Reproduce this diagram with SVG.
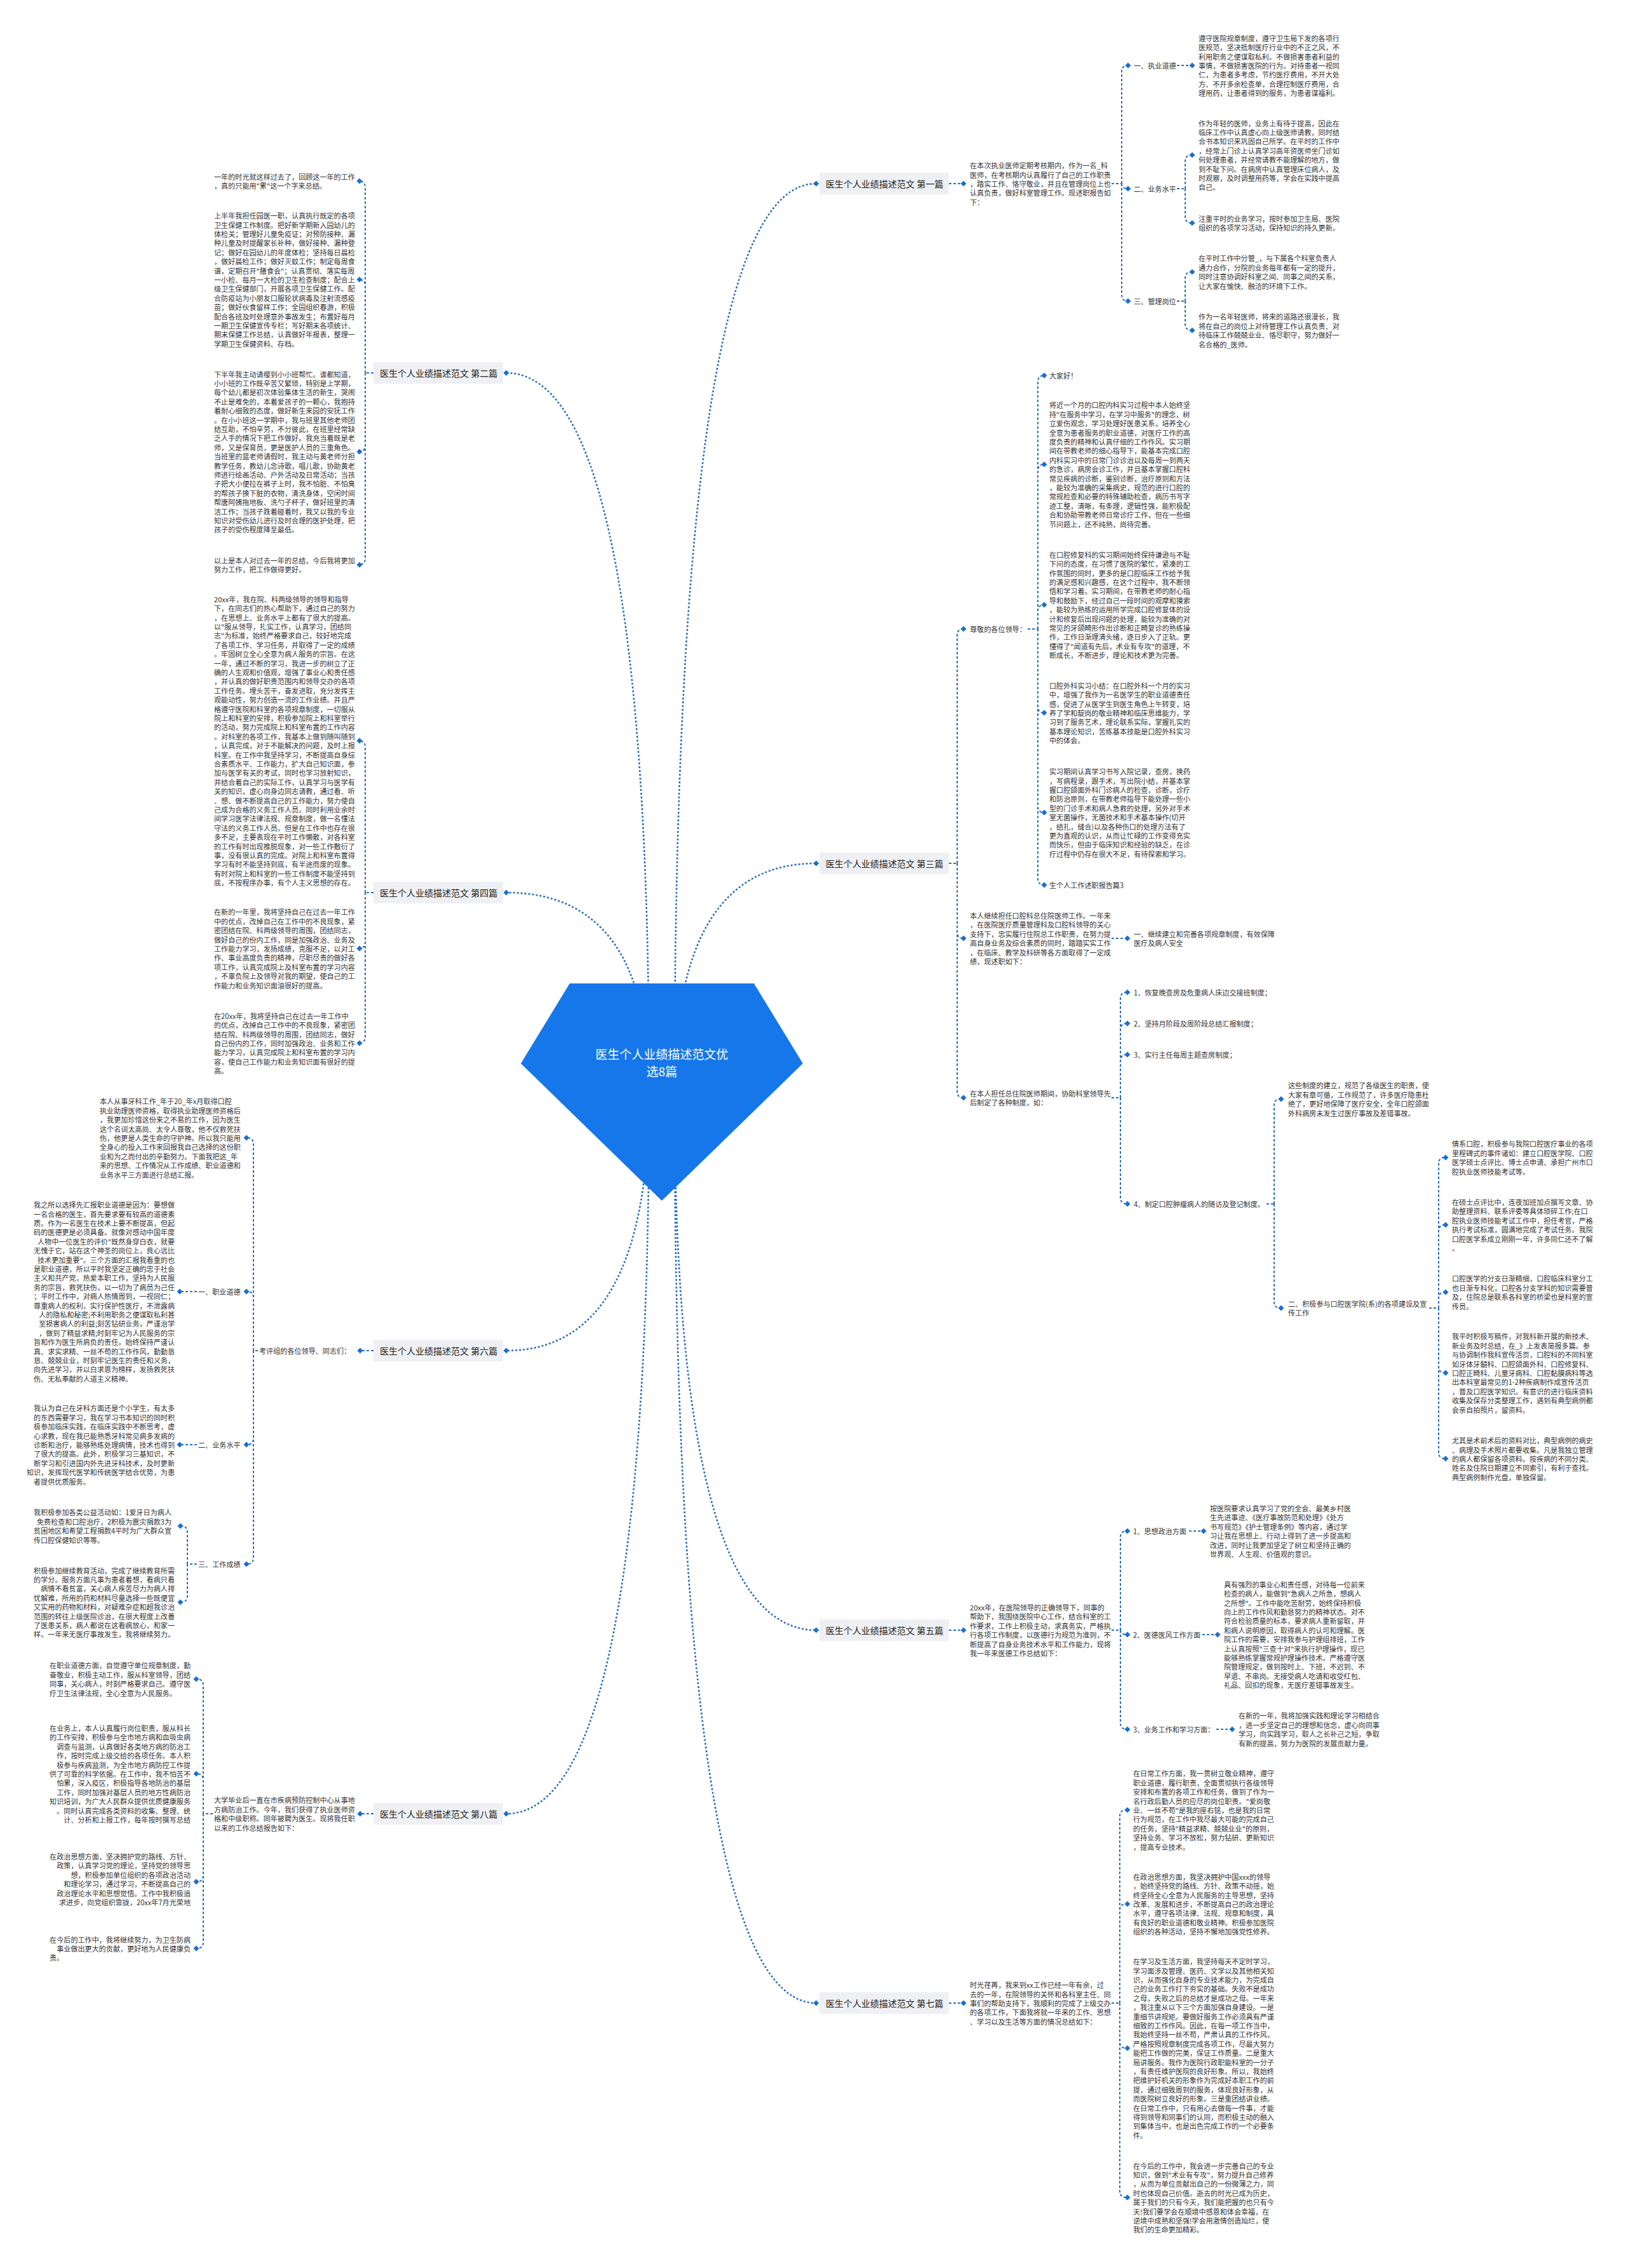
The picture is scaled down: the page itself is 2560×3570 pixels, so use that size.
<svg xmlns="http://www.w3.org/2000/svg" xmlns:xlink="http://www.w3.org/1999/xlink" width="2560" height="3570" viewBox="0 0 2560 3570">
<style>
text{font-family:"Noto Sans CJK SC","Noto Sans",sans-serif;dominant-baseline:central}
.t{font-size:11.1px;fill:#333}
.e{text-anchor:end}
.lb{font-size:14px;fill:#222}
.root{font-size:19px;fill:#fff;text-anchor:middle}
.box{fill:#eef0f4}
.c{fill:none;stroke:#2a6ebd;stroke-width:2;stroke-dasharray:4 3}
.cm{fill:none;stroke:#2a6ebd;stroke-width:2.6;stroke-dasharray:3 3}
</style>
<defs>
<path id="dm" d="M0,-4.5L4.5,0L0,4.5L-4.5,0Z" fill="#1a6fd0"/>
</defs>
<rect width="2560" height="3570" fill="#ffffff"/>
<g id="connectors">
<path class="cm" d="M1062,1719 Q1062,289 1285,289"/>
<path class="cm" d="M1062,1719 Q1062,1359 1285,1359"/>
<path class="cm" d="M1062,1719 Q1062,2566 1285,2566"/>
<path class="cm" d="M1062,1719 Q1062,3153 1285,3153"/>
<path class="cm" d="M1022,1719 Q1022,587 797,587"/>
<path class="cm" d="M1022,1719 Q1022,1405 797,1405"/>
<path class="cm" d="M1022,1719 Q1022,2126 797,2126"/>
<path class="cm" d="M1022,1719 Q1022,2855 797,2855"/>
<!-- branch 1 -->
<path class="c" d="M1494,289 H1517"/>
<path class="c" d="M1750,289 H1766"/>
<path class="c" d="M1766,289 V113 Q1766,103 1776,103"/>
<path class="c" d="M1766,289 C1766,295 1770,297 1776,297"/>
<path class="c" d="M1766,289 V464 Q1766,474 1776,474"/>
<path class="c" d="M1853,103 H1877"/>
<path class="c" d="M1853,297 H1866"/>
<path class="c" d="M1866,297 V254 Q1866,244 1876,244"/>
<path class="c" d="M1866,297 V341 Q1866,351 1876,351"/>
<path class="c" d="M1853,474 H1866"/>
<path class="c" d="M1866,474 V438 Q1866,428 1876,428"/>
<path class="c" d="M1866,474 V510 Q1866,520 1876,520"/>
<!-- branch 2 -->
<path class="c" d="M588,587 H575"/>
<path class="c" d="M575,587 V295 Q575,285 565,285"/>
<path class="c" d="M575,587 V450 Q575,440 565,440"/>
<path class="c" d="M575,587 V701 Q575,711 565,711"/>
<path class="c" d="M575,587 V879 Q575,889 565,889"/>
<!-- branch 4 -->
<path class="c" d="M588,1405 H575"/>
<path class="c" d="M575,1405 V1176 Q575,1166 565,1166"/>
<path class="c" d="M575,1405 V1483 Q575,1493 565,1493"/>
<path class="c" d="M575,1405 V1632 Q575,1642 565,1642"/>
<!-- branch 6 -->
<path class="c" d="M588,2126 H567"/>
<path class="c" d="M406,2126 H399"/>
<path class="c" d="M399,2126 V1801 Q399,1791 389,1791"/>
<path class="c" d="M399,2126 V2043 Q399,2033 389,2033"/>
<path class="c" d="M399,2126 V2264 Q399,2274 389,2274"/>
<path class="c" d="M399,2126 V2452 Q399,2462 389,2462"/>
<path class="c" d="M310,2033 H283"/>
<path class="c" d="M310,2274 H283"/>
<path class="c" d="M310,2462 H295"/>
<path class="c" d="M295,2462 V2412 Q295,2402 285,2402"/>
<path class="c" d="M295,2462 V2512 Q295,2522 285,2522"/>
<!-- branch 8 -->
<path class="c" d="M588,2855 H567"/>
<path class="c" d="M335,2855 H320"/>
<path class="c" d="M320,2855 V2653 Q320,2643 310,2643"/>
<path class="c" d="M320,2855 V2802 Q320,2792 310,2792"/>
<path class="c" d="M320,2855 V2952 Q320,2962 310,2962"/>
<path class="c" d="M320,2855 V3057 Q320,3067 310,3067"/>
<!-- branch 3 -->
<path class="c" d="M1494,1359 H1507"/>
<path class="c" d="M1507,1359 V1000 Q1507,990 1517,990"/>
<path class="c" d="M1507,1359 V1467 Q1507,1477 1517,1477"/>
<path class="c" d="M1507,1359 V1718 Q1507,1728 1517,1728"/>
<path class="c" d="M1618,990 H1634"/>
<path class="c" d="M1634,990 V601 Q1634,591 1644,591"/>
<path class="c" d="M1634,990 V741 Q1634,731 1644,731"/>
<path class="c" d="M1634,990 V962 Q1634,952 1644,952"/>
<path class="c" d="M1634,990 V1112 Q1634,1122 1644,1122"/>
<path class="c" d="M1634,990 V1269 Q1634,1279 1644,1279"/>
<path class="c" d="M1634,990 V1383 Q1634,1393 1644,1393"/>
<path class="c" d="M1750,1477 H1775"/>
<path class="c" d="M1750,1728 H1764"/>
<path class="c" d="M1764,1728 V1572 Q1764,1562 1774,1562"/>
<path class="c" d="M1764,1728 V1621 Q1764,1611 1774,1611"/>
<path class="c" d="M1764,1728 V1670 Q1764,1660 1774,1660"/>
<path class="c" d="M1764,1728 V1885 Q1764,1895 1774,1895"/>
<path class="c" d="M1994,1895 H2006"/>
<path class="c" d="M2006,1895 V1740 Q2006,1730 2016,1730"/>
<path class="c" d="M2006,1895 V2049 Q2006,2059 2016,2059"/>
<path class="c" d="M2250,2059 H2265"/>
<path class="c" d="M2265,2059 V1832 Q2265,1822 2275,1822"/>
<path class="c" d="M2265,2059 V1938 Q2265,1928 2275,1928"/>
<path class="c" d="M2265,2059 V2044 Q2265,2034 2275,2034"/>
<path class="c" d="M2265,2059 V2151 Q2265,2161 2275,2161"/>
<path class="c" d="M2265,2059 V2286 Q2265,2296 2275,2296"/>
<!-- branch 5 -->
<path class="c" d="M1494,2566 H1517"/>
<path class="c" d="M1750,2566 H1764"/>
<path class="c" d="M1764,2566 V2420 Q1764,2410 1774,2410"/>
<path class="c" d="M1764,2566 C1764,2571 1768,2573 1774,2573"/>
<path class="c" d="M1764,2566 V2712 Q1764,2722 1774,2722"/>
<path class="c" d="M1872,2410 H1895"/>
<path class="c" d="M1893,2573 H1917"/>
<path class="c" d="M1915,2722 H1940"/>
<!-- branch 7 -->
<path class="c" d="M1494,3153 H1517"/>
<path class="c" d="M1750,3153 H1763"/>
<path class="c" d="M1763,3153 V2859 Q1763,2849 1773,2849"/>
<path class="c" d="M1763,3153 V3007 Q1763,2997 1773,2997"/>
<path class="c" d="M1763,3153 V3214 Q1763,3224 1773,3224"/>
<path class="c" d="M1763,3153 V3449 Q1763,3459 1773,3459"/>
<!-- diamonds -->
<use xlink:href="#dm" x="1285" y="289"/><use xlink:href="#dm" x="1285" y="1359"/><use xlink:href="#dm" x="1285" y="2566"/><use xlink:href="#dm" x="1285" y="3153"/>
<use xlink:href="#dm" x="797" y="587"/><use xlink:href="#dm" x="797" y="1405"/><use xlink:href="#dm" x="797" y="2126"/><use xlink:href="#dm" x="797" y="2855"/>
<use xlink:href="#dm" x="1517" y="289"/><use xlink:href="#dm" x="1776" y="103"/><use xlink:href="#dm" x="1776" y="297"/><use xlink:href="#dm" x="1776" y="474"/>
<use xlink:href="#dm" x="1877" y="103"/><use xlink:href="#dm" x="1877" y="244"/><use xlink:href="#dm" x="1877" y="351"/><use xlink:href="#dm" x="1877" y="428"/><use xlink:href="#dm" x="1877" y="520"/>
<use xlink:href="#dm" x="566" y="285"/><use xlink:href="#dm" x="566" y="440"/><use xlink:href="#dm" x="566" y="711"/><use xlink:href="#dm" x="566" y="889"/>
<use xlink:href="#dm" x="566" y="1166"/><use xlink:href="#dm" x="566" y="1493"/><use xlink:href="#dm" x="566" y="1642"/>
<use xlink:href="#dm" x="567" y="2126"/><use xlink:href="#dm" x="388" y="1791"/><use xlink:href="#dm" x="388" y="2033"/><use xlink:href="#dm" x="388" y="2274"/><use xlink:href="#dm" x="388" y="2462"/>
<use xlink:href="#dm" x="283" y="2033"/><use xlink:href="#dm" x="283" y="2274"/><use xlink:href="#dm" x="284" y="2402"/><use xlink:href="#dm" x="284" y="2522"/>
<use xlink:href="#dm" x="567" y="2855"/><use xlink:href="#dm" x="309" y="2643"/><use xlink:href="#dm" x="309" y="2792"/><use xlink:href="#dm" x="309" y="2962"/><use xlink:href="#dm" x="309" y="3067"/>
<use xlink:href="#dm" x="1517" y="990"/><use xlink:href="#dm" x="1517" y="1477"/><use xlink:href="#dm" x="1517" y="1728"/>
<use xlink:href="#dm" x="1644" y="591"/><use xlink:href="#dm" x="1644" y="731"/><use xlink:href="#dm" x="1644" y="952"/><use xlink:href="#dm" x="1644" y="1122"/><use xlink:href="#dm" x="1644" y="1279"/><use xlink:href="#dm" x="1644" y="1393"/>
<use xlink:href="#dm" x="1775" y="1477"/><use xlink:href="#dm" x="1775" y="1562"/><use xlink:href="#dm" x="1775" y="1611"/><use xlink:href="#dm" x="1775" y="1660"/><use xlink:href="#dm" x="1775" y="1895"/>
<use xlink:href="#dm" x="2017" y="1730"/><use xlink:href="#dm" x="2017" y="2059"/>
<use xlink:href="#dm" x="2276" y="1822"/><use xlink:href="#dm" x="2276" y="1928"/><use xlink:href="#dm" x="2276" y="2034"/><use xlink:href="#dm" x="2276" y="2161"/><use xlink:href="#dm" x="2276" y="2296"/>
<use xlink:href="#dm" x="1517" y="2566"/><use xlink:href="#dm" x="1775" y="2410"/><use xlink:href="#dm" x="1775" y="2573"/><use xlink:href="#dm" x="1775" y="2722"/>
<use xlink:href="#dm" x="1895" y="2410"/><use xlink:href="#dm" x="1917" y="2573"/><use xlink:href="#dm" x="1940" y="2722"/>
<use xlink:href="#dm" x="1517" y="3153"/><use xlink:href="#dm" x="1775" y="2849"/><use xlink:href="#dm" x="1775" y="2997"/><use xlink:href="#dm" x="1775" y="3224"/><use xlink:href="#dm" x="1775" y="3459"/>
</g>

<g id="root">
<polygon points="897,1548 1187,1548 1264,1674 1042,1890 820,1674" fill="#1677ea"/>
<text class="root" x="1042" y="1658">医生个人业绩描述范文优</text>
<text class="root" x="1042" y="1685">选8篇</text>
</g>

<!-- branch labels -->
<g id="b1"><rect class="box" x="1290" y="272" width="204" height="34" rx="2"/><text class="lb" x="1300" y="289">医生个人业绩描述范文 第一篇</text></g>
<g id="b3"><rect class="box" x="1290" y="1342" width="204" height="34" rx="2"/><text class="lb" x="1300" y="1359">医生个人业绩描述范文 第三篇</text></g>
<g id="b5"><rect class="box" x="1290" y="2549" width="204" height="34" rx="2"/><text class="lb" x="1300" y="2566">医生个人业绩描述范文 第五篇</text></g>
<g id="b7"><rect class="box" x="1290" y="3136" width="204" height="34" rx="2"/><text class="lb" x="1300" y="3153">医生个人业绩描述范文 第七篇</text></g>
<g id="b2"><rect class="box" x="588" y="570" width="204" height="34" rx="2"/><text class="lb" x="598" y="587">医生个人业绩描述范文 第二篇</text></g>
<g id="b4"><rect class="box" x="588" y="1388" width="204" height="34" rx="2"/><text class="lb" x="598" y="1405">医生个人业绩描述范文 第四篇</text></g>
<g id="b6"><rect class="box" x="588" y="2109" width="204" height="34" rx="2"/><text class="lb" x="598" y="2126">医生个人业绩描述范文 第六篇</text></g>
<g id="b8"><rect class="box" x="588" y="2838" width="204" height="34" rx="2"/><text class="lb" x="598" y="2855">医生个人业绩描述范文 第八篇</text></g>

<!-- branch 1 content -->
<g id="b1-intro"><text class="t" x="1527" y="260.2"><tspan x="1527">在本次执业医师定期考核期内，作为一名_科</tspan><tspan x="1527" dy="14.4">医师，在考核期内认真履行了自己的工作职责</tspan><tspan x="1527" dy="14.4">，踏实工作、恪守敬业，并且在管理岗位上也</tspan><tspan x="1527" dy="14.4">认真负责，做好科室管理工作。现述职报告如</tspan><tspan x="1527" dy="14.4">下：</tspan></text></g>
<g id="b1-s1"><text class="t" x="1785" y="103">一、执业道德</text></g>
<g id="b1-s2"><text class="t" x="1785" y="297">二、业务水平</text></g>
<g id="b1-s3"><text class="t" x="1785" y="474">三、管理岗位</text></g>
<g id="b1-s1-t"><text class="t" x="1887" y="59.8"><tspan x="1887">遵守医院规章制度，遵守卫生局下发的各项行</tspan><tspan x="1887" dy="14.4">医规范，坚决抵制医疗行业中的不正之风，不</tspan><tspan x="1887" dy="14.4">利用职务之便谋取私利。不做损害患者利益的</tspan><tspan x="1887" dy="14.4">事情，不做损害医院的行为。对待患者一视同</tspan><tspan x="1887" dy="14.4">仁，为患者多考虑，节约医疗费用，不开大处</tspan><tspan x="1887" dy="14.4">方、不开多余检查单，合理控制医疗费用，合</tspan><tspan x="1887" dy="14.4">理用药，让患者得到的服务，为患者谋福利。</tspan></text></g>
<g id="b1-s2-t1"><text class="t" x="1887" y="193.6"><tspan x="1887">作为年轻的医师，业务上有待于提高，因此在</tspan><tspan x="1887" dy="14.4">临床工作中认真虚心向上级医师请教，同时结</tspan><tspan x="1887" dy="14.4">合书本知识来巩固自己所学。在平时的工作中</tspan><tspan x="1887" dy="14.4">，经常上门诊上认真学习高年资医师坐门诊如</tspan><tspan x="1887" dy="14.4">何处理患者，并经常请教不能理解的地方，做</tspan><tspan x="1887" dy="14.4">到不耻下问。在病房中认真管理床位病人，及</tspan><tspan x="1887" dy="14.4">时观察，及时调整用药等，学会在实践中提高</tspan><tspan x="1887" dy="14.4">自己。</tspan></text></g>
<g id="b1-s2-t2"><text class="t" x="1887" y="343.8"><tspan x="1887">注重平时的业务学习，按时参加卫生局、医院</tspan><tspan x="1887" dy="14.4">组织的各项学习活动，保持知识的持久更新。</tspan></text></g>
<g id="b1-s3-t1"><text class="t" x="1887" y="406.4"><tspan x="1887">在平时工作中分管_，与下属各个科室负责人</tspan><tspan x="1887" dy="14.4">通力合作，分院的业务每年都有一定的提升，</tspan><tspan x="1887" dy="14.4">同时注意协调好科室之间、同事之间的关系，</tspan><tspan x="1887" dy="14.4">让大家在愉快、融洽的环境下工作。</tspan></text></g>
<g id="b1-s3-t2"><text class="t" x="1887" y="498.4"><tspan x="1887">作为一名年轻医师，将来的道路还很漫长，我</tspan><tspan x="1887" dy="14.4">将在自己的岗位上对待管理工作认真负责、对</tspan><tspan x="1887" dy="14.4">待临床工作兢兢业业、恪尽职守，努力做好一</tspan><tspan x="1887" dy="14.4">名合格的_医师。</tspan></text></g>

<!-- branch 2 content -->
<g id="b2-t1"><text class="t" x="337" y="277.8"><tspan x="337">一年的时光就这样过去了，回顾这一年的工作</tspan><tspan x="337" dy="14.4">，真的只能用"累"这一个字来总结。</tspan></text></g>
<g id="b2-t2"><text class="t" x="337" y="339.2"><tspan x="337">上半年我担任园医一职，认真执行既定的各项</tspan><tspan x="337" dy="14.4">卫生保健工作制度。把好新学期新入园幼儿的</tspan><tspan x="337" dy="14.4">体检关；管理好儿童免疫证；对预防接种、漏</tspan><tspan x="337" dy="14.4">种儿童及时提醒家长补种，做好接种、漏种登</tspan><tspan x="337" dy="14.4">记；做好在园幼儿的年度体检；坚持每日晨检</tspan><tspan x="337" dy="14.4">，做好晨检工作；做好灭蚊工作；制定每周食</tspan><tspan x="337" dy="14.4">谱，定期召开"膳食会"；认真贯彻、落实每周</tspan><tspan x="337" dy="14.4">一小检、每月一大检的卫生检查制度；配合上</tspan><tspan x="337" dy="14.4">级卫生保健部门，开展各项卫生保健工作。配</tspan><tspan x="337" dy="14.4">合防疫站为小朋友口服轮状病毒及注射流感疫</tspan><tspan x="337" dy="14.4">苗；做好伙食留样工作；全园组织春游，积极</tspan><tspan x="337" dy="14.4">配合各班及时处理意外事故发生；布置好每月</tspan><tspan x="337" dy="14.4">一期卫生保健宣传专栏；写好期末各项统计、</tspan><tspan x="337" dy="14.4">期末保健工作总结，认真做好年报表，整理一</tspan><tspan x="337" dy="14.4">学期卫生保健资料、存档。</tspan></text></g>
<g id="b2-t3"><text class="t" x="337" y="588.6"><tspan x="337">下半年我主动请缨到小小班帮忙。谁都知道，</tspan><tspan x="337" dy="14.4">小小班的工作既辛苦又繁琐，特别是上学期，</tspan><tspan x="337" dy="14.4">每个幼儿都是初次体验集体生活的新生，哭闹</tspan><tspan x="337" dy="14.4">不止是难免的，本着爱孩子的一颗心，我抱持</tspan><tspan x="337" dy="14.4">着耐心细致的态度，做好新生来园的安抚工作</tspan><tspan x="337" dy="14.4">。在小小班这一学期中，我与班里其他老师团</tspan><tspan x="337" dy="14.4">结互助，不怕辛劳，不分彼此，在班里经常缺</tspan><tspan x="337" dy="14.4">乏人手的情况下把工作做好。我充当着既是老</tspan><tspan x="337" dy="14.4">师，又是保育员，更是医护人员的三重角色。</tspan><tspan x="337" dy="14.4">当班里的蓝老师请假时，我主动与黄老师分担</tspan><tspan x="337" dy="14.4">教学任务，教幼儿念诗歌，唱儿歌，协助黄老</tspan><tspan x="337" dy="14.4">师进行绘画活动、户外活动及日常活动；当孩</tspan><tspan x="337" dy="14.4">子把大小便拉在裤子上时，我不怕脏、不怕臭</tspan><tspan x="337" dy="14.4">的帮孩子换下脏的衣物，清洗身体，空闲时间</tspan><tspan x="337" dy="14.4">帮唐阿姨拖地板、洗勺子杯子，做好班里的清</tspan><tspan x="337" dy="14.4">洁工作；当孩子跌着碰着时，我又以我的专业</tspan><tspan x="337" dy="14.4">知识对受伤幼儿进行及时合理的医护处理，把</tspan><tspan x="337" dy="14.4">孩子的受伤程度降至最低。</tspan></text></g>
<g id="b2-t4"><text class="t" x="337" y="881.8"><tspan x="337">以上是本人对过去一年的总结，今后我将更加</tspan><tspan x="337" dy="14.4">努力工作，把工作做得更好。</tspan></text></g>

<!-- branch 4 content -->
<g id="b4-t1"><text class="t" x="337" y="942.8"><tspan x="337">20xx年，我在院、科两级领导的领导和指导</tspan><tspan x="337" dy="14.4">下，在同志们的热心帮助下，通过自己的努力</tspan><tspan x="337" dy="14.4">，在思想上、业务水平上都有了很大的提高。</tspan><tspan x="337" dy="14.4">以"服从领导，扎实工作，认真学习，团结同</tspan><tspan x="337" dy="14.4">志"为标准，始终严格要求自己，较好地完成</tspan><tspan x="337" dy="14.4">了各项工作、学习任务，并取得了一定的成绩</tspan><tspan x="337" dy="14.4">。牢固树立全心全意为病人服务的宗旨。在这</tspan><tspan x="337" dy="14.4">一年，通过不断的学习，我进一步的树立了正</tspan><tspan x="337" dy="14.4">确的人生观和价值观，增强了事业心和责任感</tspan><tspan x="337" dy="14.4">，并认真的做好职责范围内和领导交办的各项</tspan><tspan x="337" dy="14.4">工作任务。埋头苦干，奋发进取，充分发挥主</tspan><tspan x="337" dy="14.4">观能动性，努力创造一流的工作业绩。并且严</tspan><tspan x="337" dy="14.4">格遵守医院和科室的各项规章制度，一切服从</tspan><tspan x="337" dy="14.4">院上和科室的安排，积极参加院上和科室举行</tspan><tspan x="337" dy="14.4">的活动，努力完成院上和科室布置的工作内容</tspan><tspan x="337" dy="14.4">。对科室的各项工作，我基本上做到随叫随到</tspan><tspan x="337" dy="14.4">，认真完成，对于不能解决的问题，及时上报</tspan><tspan x="337" dy="14.4">科室。在工作中我坚持学习，不断提高自身综</tspan><tspan x="337" dy="14.4">合素质水平、工作能力，扩大自己知识面，参</tspan><tspan x="337" dy="14.4">加与医学有关的考试，同时也学习放射知识，</tspan><tspan x="337" dy="14.4">并结合着自己的实际工作，认真学习与医学有</tspan><tspan x="337" dy="14.4">关的知识，虚心向身边同志请教，通过看、听</tspan><tspan x="337" dy="14.4">、想、做不断提高自己的工作能力，努力使自</tspan><tspan x="337" dy="14.4">己成为合格的义务工作人员。同时利用业余时</tspan><tspan x="337" dy="14.4">间学习医学法律法规、规章制度，做一名懂法</tspan><tspan x="337" dy="14.4">守法的义务工作人员。但是在工作中也存在很</tspan><tspan x="337" dy="14.4">多不足，主要表现在平时工作懒散，对各科室</tspan><tspan x="337" dy="14.4">的工作有时出现推脱现象，对一些工作敷衍了</tspan><tspan x="337" dy="14.4">事，没有很认真的完成。对院上和科室布置得</tspan><tspan x="337" dy="14.4">学习有时不能坚持到底，有半途而废的现象。</tspan><tspan x="337" dy="14.4">有时对院上和科室的一些工作制度不能坚持到</tspan><tspan x="337" dy="14.4">底，不按程序办事，有个人主义思想的存在。</tspan></text></g>
<g id="b4-t2"><text class="t" x="337" y="1435.4"><tspan x="337">在新的一年里，我将坚持自己在过去一年工作</tspan><tspan x="337" dy="14.4">中的优点，改掉自己在工作中的不良现象，紧</tspan><tspan x="337" dy="14.4">密团结在院、科两级领导的周围，团结同志，</tspan><tspan x="337" dy="14.4">做好自己的份内工作，同是加强政治、业务及</tspan><tspan x="337" dy="14.4">工作能力学习，发扬成绩，克服不足，以对工</tspan><tspan x="337" dy="14.4">作、事业高度负责的精神，尽职尽责的做好各</tspan><tspan x="337" dy="14.4">项工作，认真完成院上及科室布置的学习内容</tspan><tspan x="337" dy="14.4">，不辜负院上及领导对我的期望，使自己的工</tspan><tspan x="337" dy="14.4">作能力和业务知识面油很好的提高。</tspan></text></g>
<g id="b4-t3"><text class="t" x="337" y="1598.8"><tspan x="337">在20xx年，我将坚持自己在过去一年工作中</tspan><tspan x="337" dy="14.4">的优点，改掉自己工作中的不良现象，紧密团</tspan><tspan x="337" dy="14.4">结在院、科两级领导的周围，团结同志，做好</tspan><tspan x="337" dy="14.4">自己份内的工作，同时加强政治、业务和工作</tspan><tspan x="337" dy="14.4">能力学习，认真完成院上和科室布置的学习内</tspan><tspan x="337" dy="14.4">容，使自己工作能力和业务知识面有很好的提</tspan><tspan x="337" dy="14.4">高。</tspan></text></g>

<!-- branch 6 content -->
<g id="b6-intro"><text class="t" x="408" y="2126">考评组的各位领导、同志们：</text></g>
<g id="b6-t0"><text class="t" x="157" y="1733.4"><tspan x="157">本人从事牙科工作_年于20_年x月取得口腔</tspan><tspan x="157" dy="14.4">执业助理医师资格，取得执业助理医师资格后</tspan><tspan x="157" dy="14.4">，我更加珍惜这份来之不易的工作，因为医生</tspan><tspan x="157" dy="14.4">这个名词太高尚、太令人尊敬，他不仅救死扶</tspan><tspan x="157" dy="14.4">伤，他更是人类生命的守护神。所以我只能用</tspan><tspan x="157" dy="14.4">全身心的投入工作来回报我自己选择的这份职</tspan><tspan x="157" dy="14.4">业和为之而付出的辛勤努力。下面我把这_年</tspan><tspan x="157" dy="14.4">来的思想、工作情况从工作成绩、职业道德和</tspan><tspan x="157" dy="14.4">业务水平三方面进行总结汇报。</tspan></text></g>
<g id="b6-s1"><text class="t" x="312" y="2033">一、职业道德</text></g>
<g id="b6-s2"><text class="t" x="312" y="2274">二、业务水平</text></g>
<g id="b6-s3"><text class="t" x="312" y="2462">三、工作成绩</text></g>
<g id="b6-s1-t"><text class="t e" x="275" y="1896.2"><tspan x="275">我之所以选择先汇报职业道德是因为：要想做</tspan><tspan x="275" dy="14.4">一名合格的医生，首先要求要有较高的道德素</tspan><tspan x="275" dy="14.4">质。作为一名医生在技术上要不断提高，但起</tspan><tspan x="275" dy="14.4">码的医德更是必须具备。就像对感动中国年度</tspan><tspan x="275" dy="14.4">人物中一位医生的评价"既然身穿白衣，就要</tspan><tspan x="275" dy="14.4">无愧于它，站在这个神圣的岗位上，良心远比</tspan><tspan x="275" dy="14.4">技术更加重要"。三个方面的汇报我看重的也</tspan><tspan x="275" dy="14.4">是职业道德，所以平时我坚定正确的忠于社会</tspan><tspan x="275" dy="14.4">主义和共产党，热爱本职工作，坚持为人民服</tspan><tspan x="275" dy="14.4">务的宗旨，救死扶伤，以一切为了病员为己任</tspan><tspan x="275" dy="14.4">；平时工作中，对病人热情周到，一视同仁；</tspan><tspan x="275" dy="14.4">尊重病人的权利，实行保护性医疗，不泄露病</tspan><tspan x="275" dy="14.4">人的隐私和秘密;不利用职务之便谋取私利甚</tspan><tspan x="275" dy="14.4">至损害病人的利益;刻苦钻研业务，严谨治学</tspan><tspan x="275" dy="14.4">，做到了精益求精;时刻牢记为人民服务的宗</tspan><tspan x="275" dy="14.4">旨和作为医生所肩负的责任。始终保持严谨认</tspan><tspan x="275" dy="14.4">真、求实求精、一丝不苟的工作作风，勤勤恳</tspan><tspan x="275" dy="14.4">恳、兢兢业业，时刻牢记医生的责任和义务，</tspan><tspan x="275" dy="14.4">向先进学习，并以白求恩为榜样，发扬救死扶</tspan></text><text class="t" x="53" y="2169.8">伤、无私奉献的人道主义精神。</text></g>
<g id="b6-s2-t"><text class="t e" x="275" y="2216.4"><tspan x="275">我认为自己在牙科方面还是个小学生，有太多</tspan><tspan x="275" dy="14.4">的东西需要学习，我在学习书本知识的同时积</tspan><tspan x="275" dy="14.4">极参加临床实践，在临床实践中不断思考，虚</tspan><tspan x="275" dy="14.4">心求教，现在我已能熟悉牙科常见病多发病的</tspan><tspan x="275" dy="14.4">诊断和治疗，能够熟练处理病情，技术也得到</tspan><tspan x="275" dy="14.4">了很大的提高。此外，积极学习三基知识，不</tspan><tspan x="275" dy="14.4">断学习和引进国内外先进牙科技术，及时更新</tspan><tspan x="275" dy="14.4">知识，发挥现代医学和传统医学结合优势，为患</tspan></text><text class="t" x="53" y="2331.6">者提供优质服务。</text></g>
<g id="b6-s3-t1"><text class="t e" x="270" y="2380.4"><tspan x="270">我积极参加各类公益活动如：1爱牙日为病人</tspan><tspan x="270" dy="14.4">免费检查和口腔治疗，2积极为震灾捐款3为</tspan><tspan x="270" dy="14.4">贫困地区和希望工程捐款4平时为广大群众宣</tspan></text><text class="t" x="53" y="2423.6">传口腔保健知识等等。</text></g>
<g id="b6-s3-t2"><text class="t e" x="275" y="2471.6"><tspan x="275">积极参加继续教育活动，完成了继续教育所需</tspan><tspan x="275" dy="14.4">的学分。服务方面凡事为患者着想，看病只看</tspan><tspan x="275" dy="14.4">病情不看贫富，关心病人疾苦尽力为病人排</tspan><tspan x="275" dy="14.4">忧解难，所用的药和材料尽量选择一些既便宜</tspan><tspan x="275" dy="14.4">又实用的药物和材料，对疑难杂症和超我诊治</tspan><tspan x="275" dy="14.4">范围的转往上级医院诊治，在很大程度上改善</tspan><tspan x="275" dy="14.4">了医患关系，病人都说在这看病放心，和家一</tspan><tspan x="275" dy="14.4">样。一年来无医疗事故发生，我将继续努力。</tspan></text></g>

<!-- branch 8 content -->
<g id="b8-intro"><text class="t" x="337" y="2833.4"><tspan x="337">大学毕业后一直在市疾病预防控制中心从事地</tspan><tspan x="337" dy="14.4">方病防治工作。今年，我们获得了执业医师资</tspan><tspan x="337" dy="14.4">格和中级职称。同年被聘为医生。现将我任职</tspan><tspan x="337" dy="14.4">以来的工作总结报告如下：</tspan></text></g>
<g id="b8-t1"><text class="t e" x="300" y="2621.4"><tspan x="300">在职业道德方面，自觉遵守单位规章制度，勤</tspan><tspan x="300" dy="14.4">奋敬业，积极主动工作，服从科室领导，团结</tspan><tspan x="300" dy="14.4">同事，关心病人，时刻严格要求自己。遵守医</tspan></text><text class="t" x="78" y="2664.6">疗卫生法律法规，全心全意为人民服务。</text></g>
<g id="b8-t2"><text class="t e" x="300" y="2720"><tspan x="300">在业务上，本人认真履行岗位职责，服从科长</tspan><tspan x="300" dy="14.4">的工作安排，积极参与全市地方病和血吸虫病</tspan><tspan x="300" dy="14.4">调查与监测，认真做好各类地方病的防治工</tspan><tspan x="300" dy="14.4">作，按时完成上级交给的各项任务。本人积</tspan><tspan x="300" dy="14.4">极参与疾病监测，为全市地方病防控工作提</tspan><tspan x="300" dy="14.4">供了可靠的科学依据。在工作中，我不怕苦不</tspan><tspan x="300" dy="14.4">怕累，深入疫区，积极指导各地防治的基层</tspan><tspan x="300" dy="14.4">工作，同时加强对基层人员的地方性病防治</tspan><tspan x="300" dy="14.4">知识培训，为广大人民群众提供优质健康服务</tspan><tspan x="300" dy="14.4">。同时认真完成各类资料的收集、整理、统</tspan><tspan x="300" dy="14.4">计、分析和上报工作，每年按时撰写总结</tspan></text></g>
<g id="b8-t3"><text class="t e" x="300" y="2922"><tspan x="300">在政治思想方面，坚决拥护党的路线、方针、</tspan><tspan x="300" dy="14.4">政策，认真学习党的理论，坚持党的领导思</tspan><tspan x="300" dy="14.4">想，积极参加单位组织的各项政治活动</tspan><tspan x="300" dy="14.4">和理论学习，通过学习，不断提高自己的</tspan><tspan x="300" dy="14.4">政治理论水平和思想觉悟。工作中我积极追</tspan><tspan x="300" dy="14.4">求进步，向党组织靠拢，20xx年7月光荣地</tspan></text></g>
<g id="b8-t4"><text class="t e" x="300" y="3052.6"><tspan x="300">在今后的工作中，我将继续努力，为卫生防病</tspan><tspan x="300" dy="14.4">事业做出更大的贡献，更好地为人民健康负</tspan></text><text class="t" x="78" y="3081.4">责。</text></g>

<!-- branch 3 content -->
<g id="b3-a"><text class="t" x="1527" y="990">尊敬的各位领导：</text></g>
<g id="b3-a1"><text class="t" x="1652" y="591">大家好！</text></g>
<g id="b3-a2"><text class="t" x="1652" y="637.4"><tspan x="1652">将近一个月的口腔内科实习过程中本人始终坚</tspan><tspan x="1652" dy="14.4">持"在服务中学习，在学习中服务"的理念，树</tspan><tspan x="1652" dy="14.4">立爱伤观念，学习处理好医患关系，培养全心</tspan><tspan x="1652" dy="14.4">全意为患者服务的职业道德，对医疗工作的高</tspan><tspan x="1652" dy="14.4">度负责的精神和认真仔细的工作作风。实习期</tspan><tspan x="1652" dy="14.4">间在带教老师的细心指导下，能基本完成口腔</tspan><tspan x="1652" dy="14.4">内科实习中的日常门诊诊治以及每周一到两天</tspan><tspan x="1652" dy="14.4">的急诊，病房会诊工作，并且基本掌握口腔科</tspan><tspan x="1652" dy="14.4">常见疾病的诊断，鉴别诊断，治疗原则和方法</tspan><tspan x="1652" dy="14.4">，能较为准确的采集病史，规范的进行口腔的</tspan><tspan x="1652" dy="14.4">常规检查和必要的特殊辅助检查，病历书写字</tspan><tspan x="1652" dy="14.4">迹工整，清晰，有条理，逻辑性强，能积极配</tspan><tspan x="1652" dy="14.4">合和协助带教老师日常诊疗工作，但在一些细</tspan><tspan x="1652" dy="14.4">节问题上，还不纯熟，尚待完善。</tspan></text></g>
<g id="b3-a3"><text class="t" x="1652" y="872.8"><tspan x="1652">在口腔修复科的实习期间始终保持谦逊与不耻</tspan><tspan x="1652" dy="14.4">下问的态度，在习惯了医院的繁忙，紧凑的工</tspan><tspan x="1652" dy="14.4">作氛围的同时，更多的是口腔临床工作给予我</tspan><tspan x="1652" dy="14.4">的满足感和兴趣感，在这个过程中，我不断领</tspan><tspan x="1652" dy="14.4">悟和学习着。实习期间，在带教老师的耐心指</tspan><tspan x="1652" dy="14.4">导和鼓励下，经过自己一段时间的观摩和摸索</tspan><tspan x="1652" dy="14.4">，能较为熟练的运用所学完成口腔修复体的设</tspan><tspan x="1652" dy="14.4">计和修复后出现问题的处理，能较为准确的对</tspan><tspan x="1652" dy="14.4">常见的牙颌畸形作出诊断和正畸复诊的熟练操</tspan><tspan x="1652" dy="14.4">作，工作日渐理清头绪，逐日步入了正轨。更</tspan><tspan x="1652" dy="14.4">懂得了"闻道有先后，术业有专攻"的道理，不</tspan><tspan x="1652" dy="14.4">断成长，不断进步，理论和技术更为完善。</tspan></text></g>
<g id="b3-a4"><text class="t" x="1652" y="1078.8"><tspan x="1652">口腔外科实习小结：在口腔外科一个月的实习</tspan><tspan x="1652" dy="14.4">中，增强了我作为一名医学生的职业道德责任</tspan><tspan x="1652" dy="14.4">感，促进了从医学生到医生角色上午转变，培</tspan><tspan x="1652" dy="14.4">养了学和靛岗的敬业精神和临床思维能力，学</tspan><tspan x="1652" dy="14.4">习到了服务艺术，理论联系实际，掌握扎实的</tspan><tspan x="1652" dy="14.4">基本理论知识，苦练基本技能是口腔外科实习</tspan><tspan x="1652" dy="14.4">中的体会。</tspan></text></g>
<g id="b3-a5"><text class="t" x="1652" y="1214.2"><tspan x="1652">实习期间认真学习书写入院记录，查房，换药</tspan><tspan x="1652" dy="14.4">，写病程录，跟手术，写出院小结，并基本掌</tspan><tspan x="1652" dy="14.4">握口腔颌面外科门诊病人的检查，诊断，诊疗</tspan><tspan x="1652" dy="14.4">和防治原则，在带教老师指导下能处理一些小</tspan><tspan x="1652" dy="14.4">型的门诊手术和病人急救的处理，另外对手术</tspan><tspan x="1652" dy="14.4">室无菌操作，无菌技术和手术基本操作(切开</tspan><tspan x="1652" dy="14.4">，结扎，缝合)以及各种伤口的处理方法有了</tspan><tspan x="1652" dy="14.4">更为直观的认识，从而让忙碌的工作变得充实</tspan><tspan x="1652" dy="14.4">而快乐，但由于临床知识和经验的缺乏，在诊</tspan><tspan x="1652" dy="14.4">疗过程中仍存在很大不足，有待探索和学习。</tspan></text></g>
<g id="b3-a6"><text class="t" x="1652" y="1393">生个人工作述职报告篇3</text></g>
<g id="b3-b"><text class="t" x="1527" y="1441"><tspan x="1527">本人继续担任口腔科总住院医师工作。一年来</tspan><tspan x="1527" dy="14.4">，在医院医疗质量管理科及口腔科领导的关心</tspan><tspan x="1527" dy="14.4">支持下，忠实履行住院总工作职责，在努力提</tspan><tspan x="1527" dy="14.4">高自身业务及综合素质的同时，踏踏实实工作</tspan><tspan x="1527" dy="14.4">，在临床、教学及科研等各方面取得了一定成</tspan><tspan x="1527" dy="14.4">绩，现述职如下：</tspan></text></g>
<g id="b3-b1"><text class="t" x="1785" y="1469.8"><tspan x="1785">一、继续建立和完善各项规章制度，有效保障</tspan><tspan x="1785" dy="14.4">医疗及病人安全</tspan></text></g>
<g id="b3-c"><text class="t" x="1527" y="1720.8"><tspan x="1527">在本人担任总住院医师期间，协助科室领导先</tspan><tspan x="1527" dy="14.4">后制定了各种制度，如：</tspan></text></g>
<g id="b3-c1"><text class="t" x="1785" y="1562">1、恢复晚查房及危重病人床边交接班制度；</text></g>
<g id="b3-c2"><text class="t" x="1785" y="1611">2、坚持月阶段及周阶段总结汇报制度；</text></g>
<g id="b3-c3"><text class="t" x="1785" y="1660">3、实行主任每周主题查房制度；</text></g>
<g id="b3-c4"><text class="t" x="1785" y="1895">4、制定口腔肿瘤病人的随访及登记制度。</text></g>
<g id="b3-c4a"><text class="t" x="2028" y="1708.4"><tspan x="2028">这些制度的建立，规范了各级医生的职责，使</tspan><tspan x="2028" dy="14.4">大家有章可循，工作规范了，许多医疗隐患杜</tspan><tspan x="2028" dy="14.4">绝了，更好地保障了医疗安全，全年口腔颌面</tspan><tspan x="2028" dy="14.4">外科病房未发生过医疗事故及差错事故。</tspan></text></g>
<g id="b3-c4b"><text class="t" x="2028" y="2051.8"><tspan x="2028">二、积极参与口腔医学院(系)的各项建设及宣</tspan><tspan x="2028" dy="14.4">传工作</tspan></text></g>
<g id="b3-r1"><text class="t" x="2286" y="1800.4"><tspan x="2286">情系口腔，积极参与我院口腔医疗事业的各项</tspan><tspan x="2286" dy="14.4">里程碑式的事件诸如：建立口腔医学院、口腔</tspan><tspan x="2286" dy="14.4">医学硕士点评比、博士点申请、承担广州市口</tspan><tspan x="2286" dy="14.4">腔执业医师技能考试等。</tspan></text></g>
<g id="b3-r2"><text class="t" x="2286" y="1892"><tspan x="2286">在硕士点评比中，连夜加班加点撰写文章、协</tspan><tspan x="2286" dy="14.4">助整理资料、联系评委等具体琐碎工作;在口</tspan><tspan x="2286" dy="14.4">腔执业医师技能考试工作中，担任考官，严格</tspan><tspan x="2286" dy="14.4">执行考试标准，圆满地完成了考试任务。我院</tspan><tspan x="2286" dy="14.4">口腔医学系成立刚刚一年，许多同仁还不了解</tspan><tspan x="2286" dy="14.4">。</tspan></text></g>
<g id="b3-r3"><text class="t" x="2286" y="2012.4"><tspan x="2286">口腔医学的分支日渐精细，口腔临床科室分工</tspan><tspan x="2286" dy="14.4">也日渐专科化，口腔各分支学科的知识需要普</tspan><tspan x="2286" dy="14.4">及，住院总是联系各科室的桥梁也是科室的宣</tspan><tspan x="2286" dy="14.4">传员。</tspan></text></g>
<g id="b3-r4"><text class="t" x="2286" y="2103.4"><tspan x="2286">我平时积极写稿件，对我科新开展的新技术、</tspan><tspan x="2286" dy="14.4">新业务及时总结，在_》上发表简报多篇。参</tspan><tspan x="2286" dy="14.4">与协调制作我科宣传活页，口腔科的不同科室</tspan><tspan x="2286" dy="14.4">如牙体牙髓科、口腔颌面外科、口腔修复科、</tspan><tspan x="2286" dy="14.4">口腔正畸科、儿童牙病科、口腔黏膜病科等选</tspan><tspan x="2286" dy="14.4">出本科室最常见的1-2种疾病制作成宣传活页</tspan><tspan x="2286" dy="14.4">，普及口腔医学知识。有意识的进行临床资料</tspan><tspan x="2286" dy="14.4">收集及保存分类整理工作，遇到有典型病例都</tspan><tspan x="2286" dy="14.4">会亲自拍照片，留资料。</tspan></text></g>
<g id="b3-r5"><text class="t" x="2286" y="2267.2"><tspan x="2286">尤其是术前术后的资料对比，典型病例的病史</tspan><tspan x="2286" dy="14.4">、病理及手术照片都要收集。凡是我独立管理</tspan><tspan x="2286" dy="14.4">的病人都保留各项资料。按疾病的不同分类、</tspan><tspan x="2286" dy="14.4">姓名及住院日期建立不同索引，有利于查找。</tspan><tspan x="2286" dy="14.4">典型病例制作光盘，单独保留。</tspan></text></g>

<!-- branch 5 content -->
<g id="b5-intro"><text class="t" x="1527" y="2530"><tspan x="1527">20xx年，在医院领导的正确领导下，同事的</tspan><tspan x="1527" dy="14.4">帮助下，我围绕医院中心工作，结合科室的工</tspan><tspan x="1527" dy="14.4">作要求，工作上积极主动，求真务实，严格执</tspan><tspan x="1527" dy="14.4">行各项工作制度，以医德行为规范为准则，不</tspan><tspan x="1527" dy="14.4">断提高了自身业务技术水平和工作能力，现将</tspan><tspan x="1527" dy="14.4">我一年来医德工作总结如下：</tspan></text></g>
<g id="b5-s1"><text class="t" x="1784" y="2410">1、思想政治方面</text></g>
<g id="b5-s2"><text class="t" x="1784" y="2573">2、医德医风工作方面</text></g>
<g id="b5-s3"><text class="t" x="1784" y="2722">3、业务工作和学习方面：</text></g>
<g id="b5-s1-t"><text class="t" x="1905" y="2374"><tspan x="1905">按医院要求认真学习了党的全会、最美乡村医</tspan><tspan x="1905" dy="14.4">生先进事迹、《医疗事故防范和处理》《处方</tspan><tspan x="1905" dy="14.4">书写规范》《护士管理条例》等内容，通过学</tspan><tspan x="1905" dy="14.4">习让我在思想上、行动上得到了进一步提高和</tspan><tspan x="1905" dy="14.4">改进，同时让我更加坚定了树立和坚持正确的</tspan><tspan x="1905" dy="14.4">世界观、人生观、价值观的意识。</tspan></text></g>
<g id="b5-s2-t"><text class="t" x="1927" y="2493.8"><tspan x="1927">具有强烈的事业心和责任感，对待每一位前来</tspan><tspan x="1927" dy="14.4">检查的病人，能做到"急病人之所急，想病人</tspan><tspan x="1927" dy="14.4">之所想"。工作中能吃苦耐劳，始终保持积极</tspan><tspan x="1927" dy="14.4">向上的工作作风和勤恳努力的精神状态。对不</tspan><tspan x="1927" dy="14.4">符合检验质量的标本，要求病人重新留取，并</tspan><tspan x="1927" dy="14.4">和病人说明原因，取得病人的认可和理解。医</tspan><tspan x="1927" dy="14.4">院工作的需要，安排我参与护理组排班，工作</tspan><tspan x="1927" dy="14.4">上认真按照"三查十对"来执行护理操作，现已</tspan><tspan x="1927" dy="14.4">能够熟练掌握常规护理操作技术。严格遵守医</tspan><tspan x="1927" dy="14.4">院管理规定，做到按时上、下班，不迟到、不</tspan><tspan x="1927" dy="14.4">早退、不串岗。无接受病人吃请和收受红包、</tspan><tspan x="1927" dy="14.4">礼品、回扣的现象，无医疗差错事故发生。</tspan></text></g>
<g id="b5-s3-t"><text class="t" x="1950" y="2700.4"><tspan x="1950">在新的一年，我将加强实践和理论学习相结合</tspan><tspan x="1950" dy="14.4">，进一步坚定自己的理想和信念，虚心向同事</tspan><tspan x="1950" dy="14.4">学习，向实践学习，取人之长补己之短，争取</tspan><tspan x="1950" dy="14.4">有新的提高，努力为医院的发展贡献力量。</tspan></text></g>

<!-- branch 7 content -->
<g id="b7-intro"><text class="t" x="1527" y="3124.2"><tspan x="1527">时光荏苒，我来到xx工作已经一年有余，过</tspan><tspan x="1527" dy="14.4">去的一年，在院领导的关怀和各科室主任、同</tspan><tspan x="1527" dy="14.4">事们的帮助支持下，我顺利的完成了上级交办</tspan><tspan x="1527" dy="14.4">的各项工作，下面我将就一年来的工作、思想</tspan><tspan x="1527" dy="14.4">、学习以及生活等方面的情况总结如下：</tspan></text></g>
<g id="b7-t1"><text class="t" x="1784" y="2791.4"><tspan x="1784">在日常工作方面，我一贯树立敬业精神，遵守</tspan><tspan x="1784" dy="14.4">职业道德，履行职责，全面贯彻执行各级领导</tspan><tspan x="1784" dy="14.4">安排和布置的各项工作和任务，做到了作为一</tspan><tspan x="1784" dy="14.4">名行政后勤人员的应尽的岗位职责。"爱岗敬</tspan><tspan x="1784" dy="14.4">业、一丝不苟"是我的座右铭，也是我的日常</tspan><tspan x="1784" dy="14.4">行为规范，在工作中我尽最大可能的完成自己</tspan><tspan x="1784" dy="14.4">的任务，坚持"精益求精、兢兢业业"的原则，</tspan><tspan x="1784" dy="14.4">坚持业务、学习不放松，努力钻研、更新知识</tspan><tspan x="1784" dy="14.4">，提高专业技术。</tspan></text></g>
<g id="b7-t2"><text class="t" x="1784" y="2953.8"><tspan x="1784">在政治思想方面，我坚决拥护中国xxx的领导</tspan><tspan x="1784" dy="14.4">，始终坚持党的路线、方针、政策不动摇，始</tspan><tspan x="1784" dy="14.4">终坚持全心全意为人民服务的主导思想，坚持</tspan><tspan x="1784" dy="14.4">改革、发展和进步，不断提高自己的政治理论</tspan><tspan x="1784" dy="14.4">水平，遵守各项法律、法规、规章和制度，具</tspan><tspan x="1784" dy="14.4">有良好的职业道德和敬业精神。积极参加医院</tspan><tspan x="1784" dy="14.4">组织的各种活动，坚持不懈地加强党性修养。</tspan></text></g>
<g id="b7-t3"><text class="t" x="1784" y="3087.2"><tspan x="1784">在学习及生活方面，我坚持每天不定时学习，</tspan><tspan x="1784" dy="14.4">学习面涉及管理、医药、文学以及其他相关知</tspan><tspan x="1784" dy="14.4">识，从而强化自身的专业技术能力，为完成自</tspan><tspan x="1784" dy="14.4">己的业务工作打下夯实的基础。失败不是成功</tspan><tspan x="1784" dy="14.4">之母，失败之后的总结才是成功之母。一年来</tspan><tspan x="1784" dy="14.4">，我注重从以下三个方面加强自身建设。一是</tspan><tspan x="1784" dy="14.4">重细节讲规矩。要做好服务工作必须具有严谨</tspan><tspan x="1784" dy="14.4">细致的工作作风。因此，在每一项工作当中，</tspan><tspan x="1784" dy="14.4">我始终坚持一丝不苟，严肃认真的工作作风，</tspan><tspan x="1784" dy="14.4">严格按照规章制度完成各项工作，尽最大努力</tspan><tspan x="1784" dy="14.4">能把工作做的完美，保证工作质量。二是重大</tspan><tspan x="1784" dy="14.4">局讲服务。我作为医院行政职能科室的一分子</tspan><tspan x="1784" dy="14.4">，有责任维护医院的良好形象。所以，我始终</tspan><tspan x="1784" dy="14.4">把维护好机关的形象作为完成好本职工作的前</tspan><tspan x="1784" dy="14.4">提，通过细致周到的服务，体现良好形象，从</tspan><tspan x="1784" dy="14.4">而医院树立良好的形象。三是重团结讲业绩。</tspan><tspan x="1784" dy="14.4">在日常工作中，只有用心去做每一件事，才能</tspan><tspan x="1784" dy="14.4">得到领导和同事们的认同，而积极主动的融入</tspan><tspan x="1784" dy="14.4">到集体当中，也是出色完成工作的一个必要条</tspan><tspan x="1784" dy="14.4">件。</tspan></text></g>
<g id="b7-t4"><text class="t" x="1784" y="3408.6"><tspan x="1784">在今后的工作中，我会进一步完善自己的专业</tspan><tspan x="1784" dy="14.4">知识，做到"术业有专攻"，努力提升自己修养</tspan><tspan x="1784" dy="14.4">，从而为单位贡献出自己的一份微薄之力，同</tspan><tspan x="1784" dy="14.4">时也体现自己价值。逝去的时光已成为历史，</tspan><tspan x="1784" dy="14.4">属于我们的只有今天，我们能把握的也只有今</tspan><tspan x="1784" dy="14.4">天!我们要学会在顺境中感恩和体会幸福，在</tspan><tspan x="1784" dy="14.4">逆境中成熟和坚强!学会用激情创造灿烂，使</tspan><tspan x="1784" dy="14.4">我们的生命更加精彩。</tspan></text></g>
</svg>
